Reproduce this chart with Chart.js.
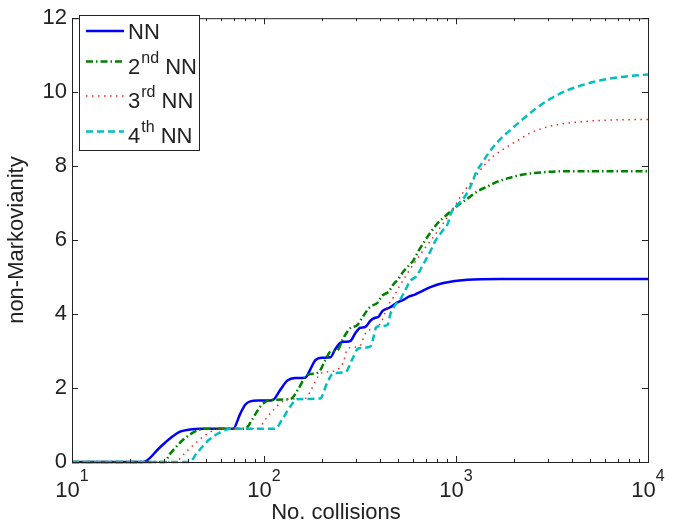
<!DOCTYPE html>
<html>
<head>
<meta charset="utf-8">
<script src="https://cdn.jsdelivr.net/npm/chart.js@4.4.1/dist/chart.umd.min.js"></script>
<style>
  html, body { margin: 0; padding: 0; background: #fff; }
</style>
</head>
<body>
<canvas id="grafico1" width="685" height="525"></canvas>
<script>
// series names (^{..} = superscript part)
const seriesNames = ['NN', '2^{nd} NN', '3^{rd} NN', '4^{th} NN'];

// NN
const nnX = [10, 23.45, 28.76, 33.22, 36.56, 41.23, 46.49, 69.1, 75.14, 79.8, 84.75, 93.3, 110.4, 121.5, 132.1, 145.5, 164, 174.1, 184.9, 201.2, 221.4, 235, 249.7, 265.2, 281.5, 298.9, 317.3, 337, 357.9, 379.9, 393.9, 413.3, 438.9, 460.5, 489.2, 513, 538.3, 571.5, 606.9, 652.3, 735.5, 859.9, 1147, 1704, 2754, 10000];
const nnY = [0, 0, 0.4, 0.68, 0.82, 0.88, 0.9, 0.9, 1.3, 1.55, 1.64, 1.66, 1.67, 1.95, 2.2, 2.27, 2.28, 2.5, 2.75, 2.82, 2.83, 3.05, 3.22, 3.25, 3.27, 3.48, 3.63, 3.65, 3.82, 3.9, 3.92, 4.08, 4.15, 4.2, 4.3, 4.35, 4.4, 4.48, 4.52, 4.6, 4.73, 4.84, 4.93, 4.95, 4.95, 4.95];

// 2nd NN
const nn2X = [10, 30.18, 32.43, 37.89, 44.85, 49.35, 79.8, 86.8, 93.3, 100.2, 107.7, 137, 150.8, 164, 174.1, 191.7, 208.5, 221.4, 240.9, 258.8, 281.5, 306.1, 329, 357.9, 389.3, 413.3, 444.3, 471.7, 500.9, 531.8, 564.7, 599.6, 636.8, 676.1, 735.5, 799.9, 902.1, 1029, 1147, 1293, 1458, 1644, 1854, 2167, 2443, 2925, 3502, 10000];
const nn2Y = [0, 0, 0.22, 0.6, 0.85, 0.9, 0.9, 1.15, 1.42, 1.6, 1.68, 1.7, 1.97, 2.3, 2.38, 2.42, 2.75, 2.98, 3.02, 3.35, 3.62, 3.7, 3.95, 4.2, 4.3, 4.5, 4.6, 4.8, 4.95, 5.15, 5.3, 5.45, 5.7, 5.92, 6.2, 6.45, 6.7, 6.95, 7.12, 7.32, 7.45, 7.58, 7.67, 7.76, 7.8, 7.84, 7.86, 7.86];

// 3rd NN
const nn3X = [10, 34.43, 38.82, 43.78, 49.35, 55.67, 60.54, 93.3, 101.5, 111.7, 125.9, 137, 164, 174.1, 184.9, 196.3, 213.6, 235, 258.8, 271.6, 288.4, 317.3, 325.1, 345.2, 379.9, 413.3, 438.9, 471.7, 500.9, 557.9, 629.2, 692.6, 753.4, 829.2, 902.1, 993, 1093, 1218, 1341, 1548, 1854, 2167, 2443, 2856, 3378, 4454, 6616, 10000];
const nn3Y = [0, 0, 0.25, 0.5, 0.72, 0.87, 0.9, 0.9, 1.15, 1.4, 1.65, 1.7, 1.72, 1.9, 2.18, 2.38, 2.44, 2.47, 2.7, 3.05, 3.1, 3.15, 3.28, 3.55, 3.6, 3.85, 4.2, 4.45, 4.7, 5.1, 5.5, 5.8, 6.05, 6.35, 6.62, 6.95, 7.3, 7.6, 7.9, 8.25, 8.53, 8.74, 8.9, 9.03, 9.12, 9.2, 9.25, 9.26];

// 4th NN
const nn4X = [10, 40.74, 44.85, 51.16, 59.1, 66.64, 114.4, 124.4, 137, 148.9, 196.3, 213.6, 229.6, 265.2, 288.4, 309.8, 357.9, 370.9, 384.6, 438.9, 455, 483.1, 513, 544.7, 578.4, 621.6, 676.1, 735.5, 780.9, 849.7, 902.1, 946.2, 1029, 1119, 1189, 1278, 1373, 1476, 1644, 1921, 2115, 2301, 2594, 2925, 3220, 3719, 4295, 4901, 5662, 7194, 10000];
const nn4Y = [0, 0, 0.25, 0.58, 0.8, 0.9, 0.9, 1.15, 1.5, 1.7, 1.72, 2.15, 2.4, 2.43, 2.78, 3.07, 3.12, 3.35, 3.65, 3.7, 4.0, 4.25, 4.4, 4.65, 4.9, 5.02, 5.35, 5.7, 5.98, 6.25, 6.42, 6.75, 6.98, 7.2, 7.45, 7.85, 8.1, 8.35, 8.65, 8.98, 9.17, 9.33, 9.55, 9.74, 9.87, 10.03, 10.15, 10.24, 10.32, 10.41, 10.48];

const xTicks = [10, 100, 1000, 10000];
const yTicks = [0, 2, 4, 6, 8, 10, 12];
const xTitle = 'No. collisions';
const yTitle = 'non-Markovianity';

const FONT = "'Liberation Sans', Arial, Helvetica, sans-serif";
const INK = '#222';

function pts(xs, ys) {
    return xs.map((x, i) => ({ x: x, y: ys[i] }));
}
function plain(name) {
    return name.replace(/\^\{(.*?)\}/, '$1');
}

// tick marks inside the box, tick labels with exponents, x title and legend
const matlabLook = {
    id: 'matlabLook',
    afterDraw(chart) {
        const ctx = chart.ctx;
        const a = chart.chartArea;
        const x = chart.scales.x;
        const y = chart.scales.y;
        ctx.save();
        ctx.strokeStyle = INK;
        ctx.lineWidth = 1;
        ctx.setLineDash([]);
        ctx.strokeRect(a.left + 0.5, a.top + 0.5, a.right - a.left, a.bottom - a.top);

        ctx.beginPath();
        yTicks.forEach(v => {
            const py = Math.round(y.getPixelForValue(v)) + 0.5;
            ctx.moveTo(a.left, py); ctx.lineTo(a.left + 6, py);
            ctx.moveTo(a.right, py); ctx.lineTo(a.right - 6, py);
        });
        xTicks.forEach(v => {
            const px = Math.round(x.getPixelForValue(v)) + 0.5;
            ctx.moveTo(px, a.bottom); ctx.lineTo(px, a.bottom - 6);
            ctx.moveTo(px, a.top); ctx.lineTo(px, a.top + 6);
        });
        for (let d = 10; d < 10000; d *= 10) {
            for (let m = 2; m <= 9; m++) {
                const px = Math.round(x.getPixelForValue(m * d)) + 0.5;
                ctx.moveTo(px, a.bottom); ctx.lineTo(px, a.bottom - 3);
                ctx.moveTo(px, a.top); ctx.lineTo(px, a.top + 3);
            }
        }
        ctx.stroke();

        // x tick labels 10^n
        ctx.fillStyle = INK;
        ctx.textBaseline = 'alphabetic';
        ctx.textAlign = 'left';
        xTicks.forEach(v => {
            const e = String(Math.round(Math.log10(v)));
            ctx.font = '22px ' + FONT;
            const w1 = ctx.measureText('10').width;
            ctx.font = '16px ' + FONT;
            const w2 = ctx.measureText(e).width;
            const px = x.getPixelForValue(v);
            const x0 = px - (w1 + w2) / 2;
            ctx.font = '22px ' + FONT;
            ctx.fillText('10', x0, 497);
            ctx.font = '16px ' + FONT;
            ctx.fillText(e, x0 + w1, 481);
        });

        // x title
        ctx.font = '22px ' + FONT;
        ctx.textAlign = 'center';
        ctx.fillText(xTitle, 336, 519);

        // legend
        const bx = 79.5, by = 15.5, bw = 120, bh = 135;
        ctx.fillStyle = '#fff';
        ctx.fillRect(bx, by, bw, bh);
        ctx.strokeStyle = INK;
        ctx.lineWidth = 1;
        ctx.strokeRect(bx, by, bw, bh);
        const lineY = [31, 61.5, 96, 131.5];
        const baseY = [39, 74, 108, 143];
        const supY = [31, 62.5, 96.5, 131.5];
        chart.data.datasets.forEach((ds, i) => {
            ctx.save();
            ctx.strokeStyle = ds.borderColor;
            ctx.lineWidth = ds.borderWidth;
            ctx.setLineDash(ds.borderDash || []);
            ctx.beginPath();
            ctx.moveTo(86, lineY[i]);
            ctx.lineTo(124, lineY[i]);
            ctx.stroke();
            ctx.restore();

            const name = seriesNames[i];
            const m = name.match(/^(.*?)\^\{(.*?)\}(.*)$/);
            ctx.fillStyle = INK;
            ctx.textAlign = 'left';
            let cx = 128;
            if (m) {
                ctx.font = '22px ' + FONT;
                ctx.fillText(m[1], cx, baseY[i]);
                cx += ctx.measureText(m[1]).width + 1;
                ctx.font = '16px ' + FONT;
                ctx.fillText(m[2], cx, supY[i]);
                cx += ctx.measureText(m[2]).width;
                ctx.font = '22px ' + FONT;
                ctx.fillText(m[3], cx, baseY[i]);
            } else {
                ctx.font = '22px ' + FONT;
                ctx.fillText(name, cx, baseY[i]);
            }
        });
        ctx.restore();
    }
};

window.addEventListener('DOMContentLoaded', () => {
    const ctx = document.getElementById('grafico1').getContext('2d');

    new Chart(ctx, {
        type: 'line',
        data: {
            datasets: [{
                label: plain(seriesNames[0]),
                data: pts(nnX, nnY),
                borderColor: '#0000ff',
                borderWidth: 2.5,
                borderDash: [],
                order: 4
            }, {
                label: plain(seriesNames[1]),
                data: pts(nn2X, nn2Y),
                borderColor: '#008000',
                borderWidth: 2.5,
                borderDash: [7, 3, 1.5, 3],
                order: 3
            }, {
                label: plain(seriesNames[2]),
                data: pts(nn3X, nn3Y),
                borderColor: '#ff2020',
                borderWidth: 1.5,
                borderDash: [1.5, 4.5],
                order: 2
            }, {
                label: plain(seriesNames[3]),
                data: pts(nn4X, nn4Y),
                borderColor: '#00bfbf',
                borderWidth: 2.5,
                borderDash: [7, 4],
                order: 1
            }]
        },
        options: {
            responsive: false,
            animation: false,
            devicePixelRatio: 1,
            clip: false,
            layout: { padding: { left: 0, right: 37, top: 8, bottom: 0 } },
            elements: {
                point: { radius: 0 },
                line: { cubicInterpolationMode: 'monotone', fill: false }
            },
            scales: {
                x: {
                    type: 'logarithmic',
                    min: 10,
                    max: 10000,
                    grid: { display: false, drawTicks: false },
                    border: { display: false },
                    ticks: { display: false },
                    afterBuildTicks: s => { s.ticks = xTicks.map(v => ({ value: v })); },
                    afterFit: s => { s.height = 63; }
                },
                y: {
                    min: 0,
                    max: 12,
                    grid: { display: false, drawTicks: false },
                    border: { display: false },
                    ticks: {
                        color: INK,
                        padding: 5,
                        font: { family: FONT, size: 22 }
                    },
                    afterBuildTicks: s => { s.ticks = yTicks.map(v => ({ value: v })); },
                    afterFit: s => { s.width = 72; },
                    title: {
                        display: true,
                        text: yTitle,
                        color: INK,
                        font: { family: FONT, size: 22 },
                        padding: { top: 4, bottom: 0 }
                    }
                }
            },
            plugins: {
                legend: { display: false },
                tooltip: { enabled: false }
            }
        },
        plugins: [matlabLook]
    });
});
</script>
</body>
</html>
